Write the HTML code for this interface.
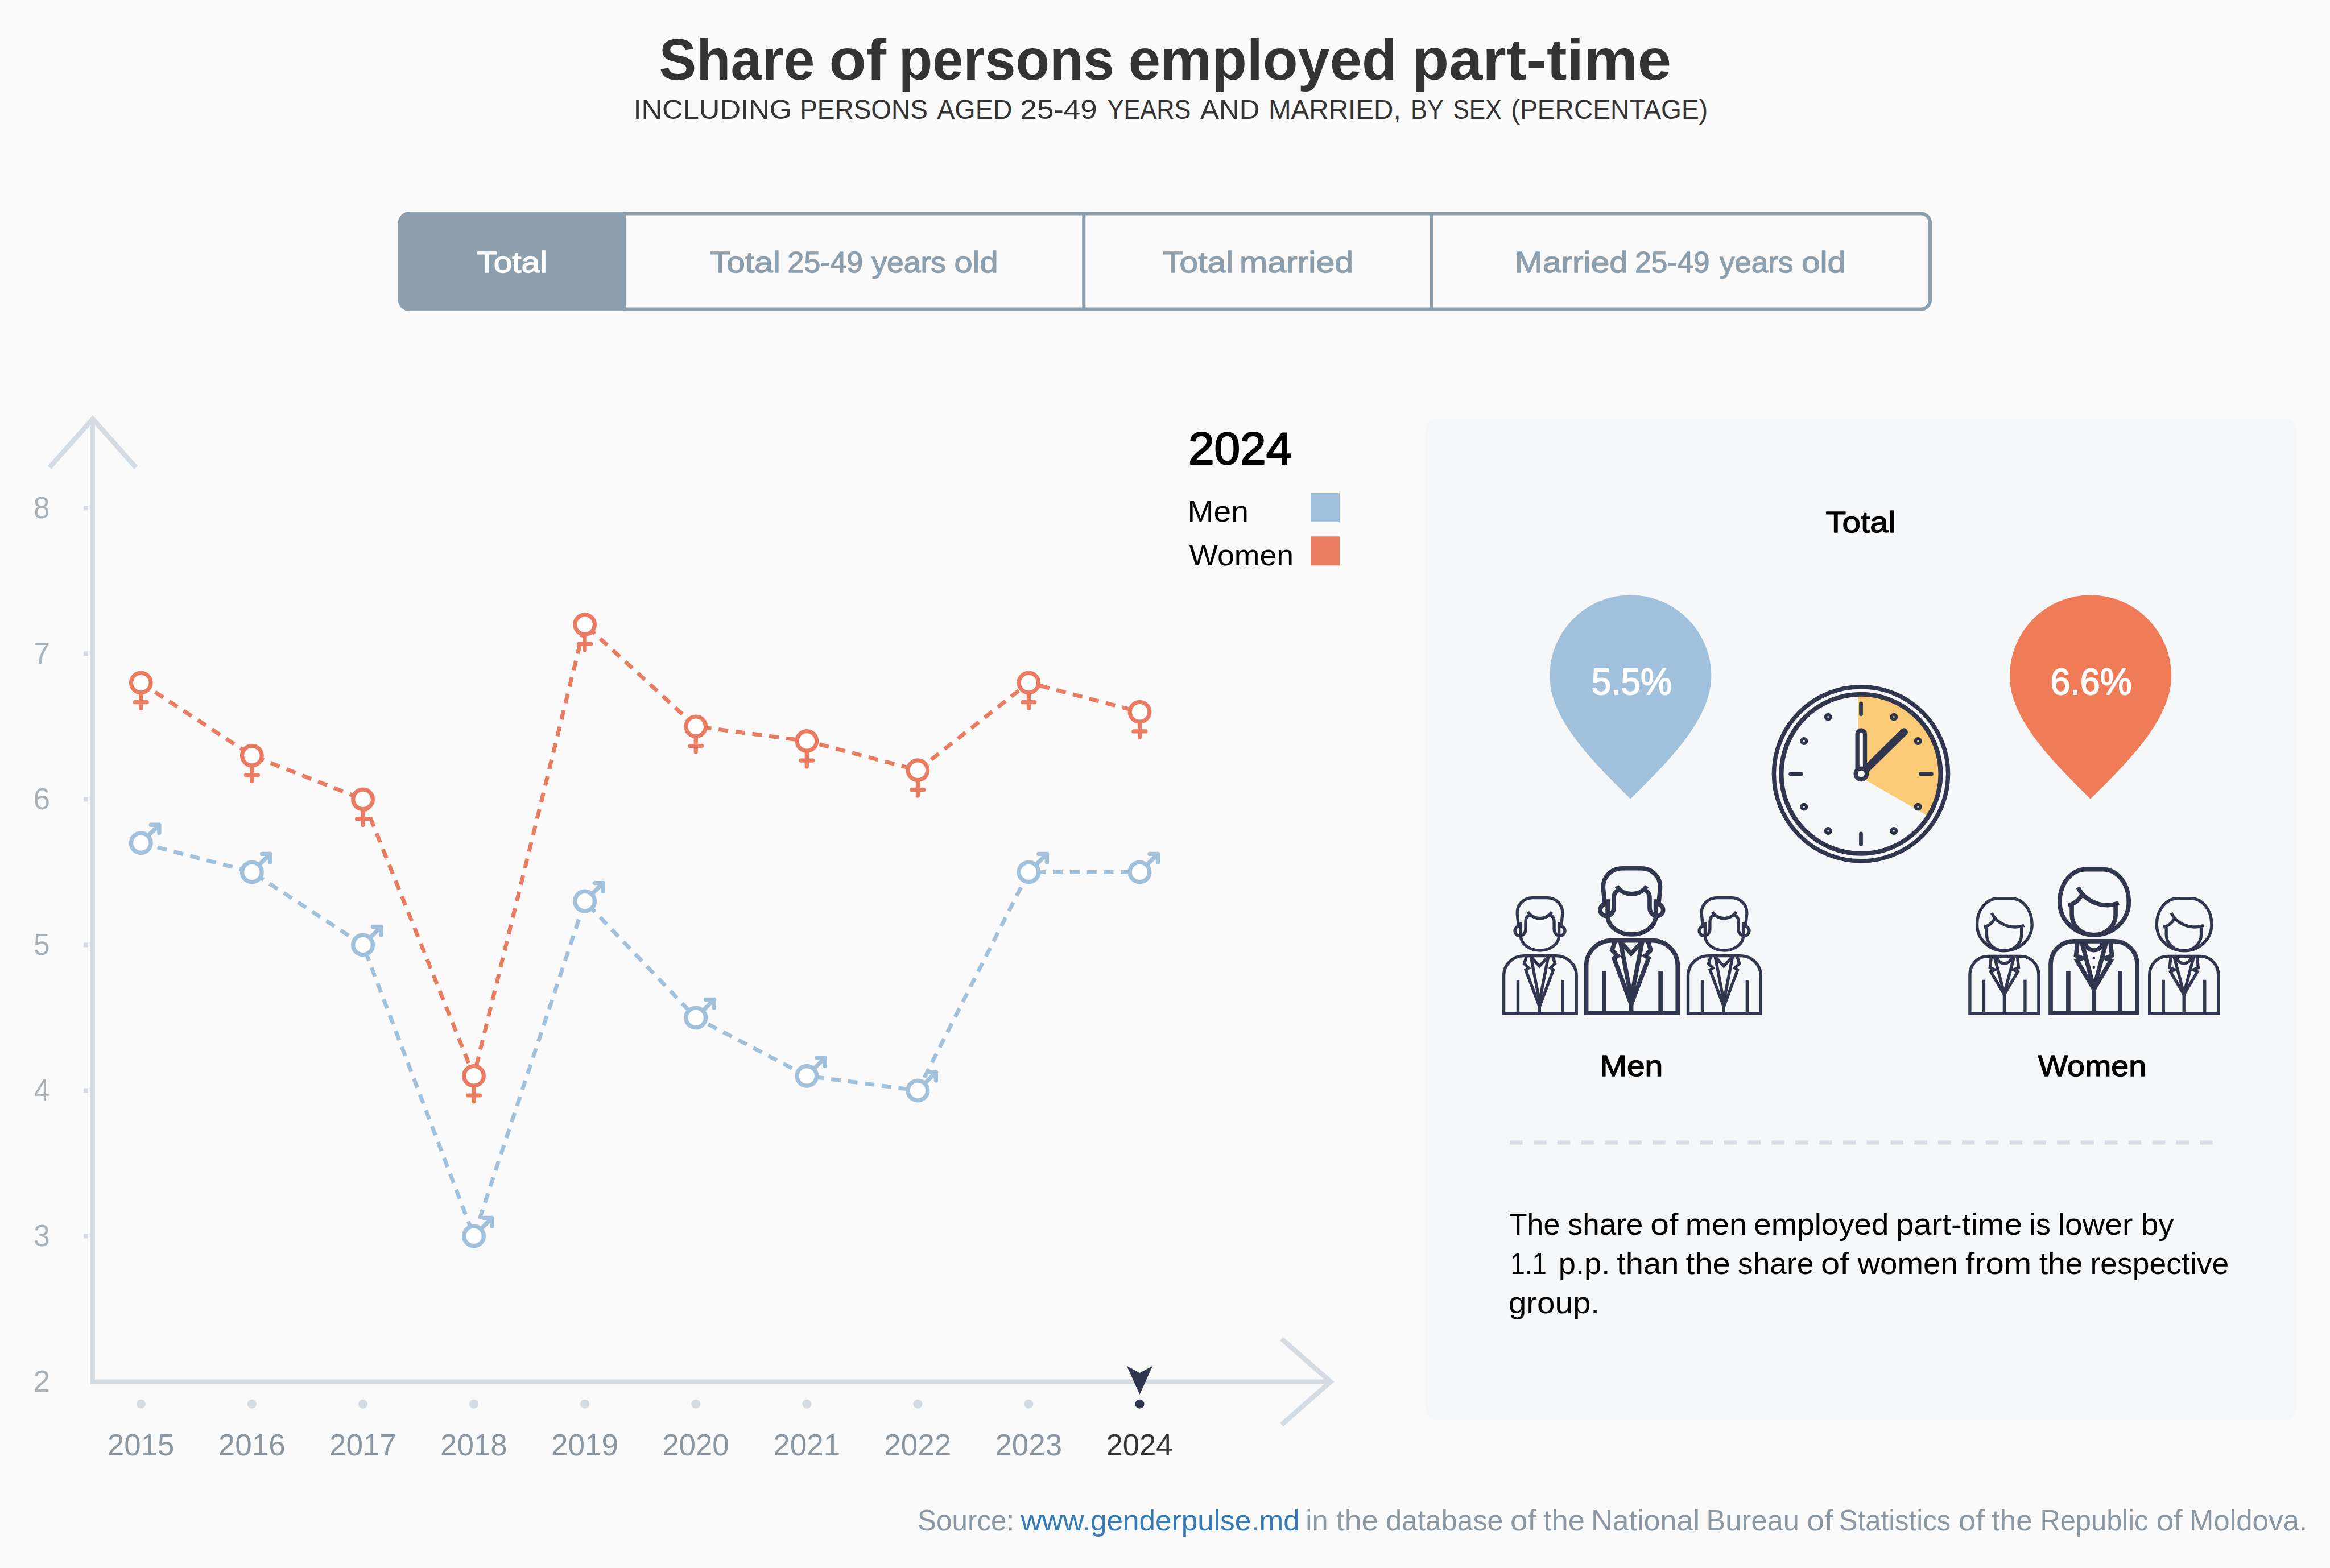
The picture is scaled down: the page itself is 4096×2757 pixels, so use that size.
<!DOCTYPE html>
<html lang="en">
<head>
<meta charset="utf-8">
<title>Share of persons employed part-time</title>
<style>
html,body{margin:0;padding:0;background:#fafafa;}
body{width:4096px;height:2757px;overflow:hidden;}
svg{display:block;font-family:"Liberation Sans", sans-serif;}
text{white-space:pre;}
</style>
</head>
<body>
<svg width="4096" height="2757" viewBox="0 0 4096 2757">
<rect width="4096" height="2757" fill="#fafafa"/>
<g class="header">
<text y="139.8" font-size="101.5" fill="#333333" font-weight="bold"><tspan x="1158.5" textLength="273.8" lengthAdjust="spacingAndGlyphs">Share</tspan> <tspan x="1457.4" textLength="100.8" lengthAdjust="spacingAndGlyphs">of</tspan> <tspan x="1579.8" textLength="378.9" lengthAdjust="spacingAndGlyphs">persons</tspan> <tspan x="1983.7" textLength="472.2" lengthAdjust="spacingAndGlyphs">employed</tspan> <tspan x="2481.9" textLength="456.3" lengthAdjust="spacingAndGlyphs">part-time</tspan></text>
<text y="209.2" font-size="47.8" fill="#333333"><tspan x="1113.4" textLength="278.7" lengthAdjust="spacingAndGlyphs">INCLUDING</tspan> <tspan x="1406.2" textLength="224.7" lengthAdjust="spacingAndGlyphs">PERSONS</tspan> <tspan x="1647.2" textLength="132.3" lengthAdjust="spacingAndGlyphs">AGED</tspan> <tspan x="1793.5" textLength="135.1" lengthAdjust="spacingAndGlyphs">25-49</tspan> <tspan x="1946.7" textLength="146.7" lengthAdjust="spacingAndGlyphs">YEARS</tspan> <tspan x="2110.1" textLength="104.4" lengthAdjust="spacingAndGlyphs">AND</tspan> <tspan x="2229.9" textLength="232.8" lengthAdjust="spacingAndGlyphs">MARRIED,</tspan> <tspan x="2480.1" textLength="57.1" lengthAdjust="spacingAndGlyphs">BY</tspan> <tspan x="2554.5" textLength="85.1" lengthAdjust="spacingAndGlyphs">SEX</tspan> <tspan x="2656.6" textLength="345.5" lengthAdjust="spacingAndGlyphs">(PERCENTAGE)</tspan></text>
</g>
<g class="tabs">
<rect x="703" y="375.5" width="2690" height="168" rx="16" fill="none" stroke="#8d9fac" stroke-width="6"/>
<path d="M1100.3 372.5H719a19 19 0 0 0-19 19V527.5a19 19 0 0 0 19 19H1100.3Z" fill="#8d9fac"/>
<path d="M1905.3 375V544M2516.5 375V544" stroke="#8d9fac" stroke-width="6" fill="none"/>
<text y="478.8" font-size="52" fill="#ffffff" stroke-width="1.3" stroke-linejoin="round"><tspan x="838.4" textLength="123.7" lengthAdjust="spacingAndGlyphs" stroke="#ffffff">Total</tspan></text>
<text y="478.8" font-size="52" fill="#8d9fac" stroke-width="1.3" stroke-linejoin="round"><tspan x="1248.1" textLength="123.7" lengthAdjust="spacingAndGlyphs" stroke="#8d9fac">Total</tspan> <tspan x="1384.6" textLength="132.5" lengthAdjust="spacingAndGlyphs" stroke="#8d9fac">25-49</tspan> <tspan x="1532.4" textLength="130.6" lengthAdjust="spacingAndGlyphs" stroke="#8d9fac">years</tspan> <tspan x="1677.5" textLength="77.0" lengthAdjust="spacingAndGlyphs" stroke="#8d9fac">old</tspan></text>
<text y="478.8" font-size="52" fill="#8d9fac" stroke-width="1.3" stroke-linejoin="round"><tspan x="2044.3" textLength="123.8" lengthAdjust="spacingAndGlyphs" stroke="#8d9fac">Total</tspan> <tspan x="2179.1" textLength="200.0" lengthAdjust="spacingAndGlyphs" stroke="#8d9fac">married</tspan></text>
<text y="478.8" font-size="52" fill="#8d9fac" stroke-width="1.3" stroke-linejoin="round"><tspan x="2663.1" textLength="198.8" lengthAdjust="spacingAndGlyphs" stroke="#8d9fac">Married</tspan> <tspan x="2874.3" textLength="131.1" lengthAdjust="spacingAndGlyphs" stroke="#8d9fac">25-49</tspan> <tspan x="3022.9" textLength="129.5" lengthAdjust="spacingAndGlyphs" stroke="#8d9fac">years</tspan> <tspan x="3166.9" textLength="78.3" lengthAdjust="spacingAndGlyphs" stroke="#8d9fac">old</tspan></text>
</g>
<g class="chart">
<g class="axes">
<path d="M163.0 738V2429.5H2339" fill="none" stroke="#d4dbe2" stroke-width="7.8" stroke-linejoin="miter"/>
<path d="M87 822L163.0 736.5L239 822" fill="none" stroke="#d4dbe2" stroke-width="8.6" stroke-linejoin="miter"/>
<path d="M2253 2354L2339 2429.5L2253 2505" fill="none" stroke="#d4dbe2" stroke-width="8.6" stroke-linejoin="miter"/>
<rect x="147" y="889.3" width="8" height="8" fill="#d4dbe2"/>
<text y="910.9" font-size="53.5" fill="#a9b0b6"><tspan x="58.8" textLength="28.8" lengthAdjust="spacingAndGlyphs">8</tspan></text>
<rect x="147" y="1145.3" width="8" height="8" fill="#d4dbe2"/>
<text y="1166.9" font-size="53.5" fill="#a9b0b6"><tspan x="58.3" textLength="29.8" lengthAdjust="spacingAndGlyphs">7</tspan></text>
<rect x="147" y="1401.4" width="8" height="8" fill="#d4dbe2"/>
<text y="1423.0" font-size="53.5" fill="#a9b0b6"><tspan x="58.4" textLength="29.5" lengthAdjust="spacingAndGlyphs">6</tspan></text>
<rect x="147" y="1657.4" width="8" height="8" fill="#d4dbe2"/>
<text y="1679.0" font-size="53.5" fill="#a9b0b6"><tspan x="58.9" textLength="28.7" lengthAdjust="spacingAndGlyphs">5</tspan></text>
<rect x="147" y="1913.4" width="8" height="8" fill="#d4dbe2"/>
<text y="1935.0" font-size="53.5" fill="#a9b0b6"><tspan x="59.9" textLength="27.0" lengthAdjust="spacingAndGlyphs">4</tspan></text>
<rect x="147" y="2169.4" width="8" height="8" fill="#d4dbe2"/>
<text y="2191.0" font-size="53.5" fill="#a9b0b6"><tspan x="59.1" textLength="28.7" lengthAdjust="spacingAndGlyphs">3</tspan></text>
<text y="2447.1" font-size="53.5" fill="#a9b0b6"><tspan x="58.3" textLength="29.8" lengthAdjust="spacingAndGlyphs">2</tspan></text>
<circle cx="247.8" cy="2468.7" r="8" fill="#d4dbe2"/>
<text y="2559.2" font-size="53.5" fill="#8b96a1"><tspan x="188.8" textLength="117.7" lengthAdjust="spacingAndGlyphs">2015</tspan></text>
<circle cx="442.9" cy="2468.7" r="8" fill="#d4dbe2"/>
<text y="2559.2" font-size="53.5" fill="#8b96a1"><tspan x="383.8" textLength="117.8" lengthAdjust="spacingAndGlyphs">2016</tspan></text>
<circle cx="638.0" cy="2468.7" r="8" fill="#d4dbe2"/>
<text y="2559.2" font-size="53.5" fill="#8b96a1"><tspan x="578.9" textLength="118.1" lengthAdjust="spacingAndGlyphs">2017</tspan></text>
<circle cx="833.0" cy="2468.7" r="8" fill="#d4dbe2"/>
<text y="2559.2" font-size="53.5" fill="#8b96a1"><tspan x="774.0" textLength="117.7" lengthAdjust="spacingAndGlyphs">2018</tspan></text>
<circle cx="1028.1" cy="2468.7" r="8" fill="#d4dbe2"/>
<text y="2559.2" font-size="53.5" fill="#8b96a1"><tspan x="969.1" textLength="118.0" lengthAdjust="spacingAndGlyphs">2019</tspan></text>
<circle cx="1223.2" cy="2468.7" r="8" fill="#d4dbe2"/>
<text y="2559.2" font-size="53.5" fill="#8b96a1"><tspan x="1164.2" textLength="117.5" lengthAdjust="spacingAndGlyphs">2020</tspan></text>
<circle cx="1418.3" cy="2468.7" r="8" fill="#d4dbe2"/>
<text y="2559.2" font-size="53.5" fill="#8b96a1"><tspan x="1359.2" textLength="118.1" lengthAdjust="spacingAndGlyphs">2021</tspan></text>
<circle cx="1613.4" cy="2468.7" r="8" fill="#d4dbe2"/>
<text y="2559.2" font-size="53.5" fill="#8b96a1"><tspan x="1554.3" textLength="118.1" lengthAdjust="spacingAndGlyphs">2022</tspan></text>
<circle cx="1808.4" cy="2468.7" r="8" fill="#d4dbe2"/>
<text y="2559.2" font-size="53.5" fill="#8b96a1"><tspan x="1749.4" textLength="117.8" lengthAdjust="spacingAndGlyphs">2023</tspan></text>
<circle cx="2003.5" cy="2468.7" r="8" fill="#31364f"/>
<text y="2559.2" font-size="53.5" fill="#333333"><tspan x="1944.5" textLength="117.0" lengthAdjust="spacingAndGlyphs">2024</tspan></text>
<path d="M1980.9 2401.8L2003.5 2414.1L2026.1 2401.8L2003.5 2452Z" fill="#31364f"/>
</g>
<g class="series">
<polyline points="247.8,1482.2 442.9,1533.4 638.0,1661.4 833.0,2173.4 1028.1,1584.6 1223.2,1789.4 1418.3,1891.8 1613.4,1917.4 1808.4,1533.4 2003.5,1533.4" fill="none" stroke="#a0c0db" stroke-width="7" stroke-dasharray="17 12.854" stroke-linejoin="miter"/>
<polyline points="247.8,1200.5 442.9,1328.6 638.0,1405.4 833.0,1891.8 1028.1,1098.1 1223.2,1277.3 1418.3,1302.9 1613.4,1354.2 1808.4,1200.5 2003.5,1251.7" fill="none" stroke="#e97b61" stroke-width="7" stroke-dasharray="17 12.854" stroke-linejoin="miter"/>
<g fill="none" stroke="#a0c0db" stroke-width="7.4" stroke-linecap="round" stroke-linejoin="round"><path d="M260.1 1469.9L279.8 1450.2M265.3 1450.2H279.8V1464.7"/><circle cx="247.8" cy="1482.2" r="17.3" fill="#fefefe"/></g>
<g fill="none" stroke="#a0c0db" stroke-width="7.4" stroke-linecap="round" stroke-linejoin="round"><path d="M455.2 1521.1L474.9 1501.4M460.4 1501.4H474.9V1515.9"/><circle cx="442.9" cy="1533.4" r="17.3" fill="#fefefe"/></g>
<g fill="none" stroke="#a0c0db" stroke-width="7.4" stroke-linecap="round" stroke-linejoin="round"><path d="M650.3 1649.1L670.0 1629.4M655.5 1629.4H670.0V1643.9"/><circle cx="638.0" cy="1661.4" r="17.3" fill="#fefefe"/></g>
<g fill="none" stroke="#a0c0db" stroke-width="7.4" stroke-linecap="round" stroke-linejoin="round"><path d="M845.3 2161.1L865.0 2141.4M850.5 2141.4H865.0V2155.9"/><circle cx="833.0" cy="2173.4" r="17.3" fill="#fefefe"/></g>
<g fill="none" stroke="#a0c0db" stroke-width="7.4" stroke-linecap="round" stroke-linejoin="round"><path d="M1040.4 1572.3L1060.1 1552.6M1045.6 1552.6H1060.1V1567.1"/><circle cx="1028.1" cy="1584.6" r="17.3" fill="#fefefe"/></g>
<g fill="none" stroke="#a0c0db" stroke-width="7.4" stroke-linecap="round" stroke-linejoin="round"><path d="M1235.5 1777.1L1255.2 1757.4M1240.7 1757.4H1255.2V1771.9"/><circle cx="1223.2" cy="1789.4" r="17.3" fill="#fefefe"/></g>
<g fill="none" stroke="#a0c0db" stroke-width="7.4" stroke-linecap="round" stroke-linejoin="round"><path d="M1430.6 1879.5L1450.3 1859.8M1435.8 1859.8H1450.3V1874.3"/><circle cx="1418.3" cy="1891.8" r="17.3" fill="#fefefe"/></g>
<g fill="none" stroke="#a0c0db" stroke-width="7.4" stroke-linecap="round" stroke-linejoin="round"><path d="M1625.7 1905.1L1645.4 1885.4M1630.9 1885.4H1645.4V1899.9"/><circle cx="1613.4" cy="1917.4" r="17.3" fill="#fefefe"/></g>
<g fill="none" stroke="#a0c0db" stroke-width="7.4" stroke-linecap="round" stroke-linejoin="round"><path d="M1820.7 1521.1L1840.4 1501.4M1825.9 1501.4H1840.4V1515.9"/><circle cx="1808.4" cy="1533.4" r="17.3" fill="#fefefe"/></g>
<g fill="none" stroke="#a0c0db" stroke-width="7.4" stroke-linecap="round" stroke-linejoin="round"><path d="M2015.8 1521.1L2035.5 1501.4M2021.0 1501.4H2035.5V1515.9"/><circle cx="2003.5" cy="1533.4" r="17.3" fill="#fefefe"/></g>
<g fill="none" stroke="#e97b61" stroke-width="7.2" stroke-linecap="round"><path d="M247.8 1217.5V1245.5M237.3 1234.7H258.3"/><circle cx="247.8" cy="1200.5" r="17.3" fill="#fefefe"/></g>
<g fill="none" stroke="#e97b61" stroke-width="7.2" stroke-linecap="round"><path d="M442.9 1345.6V1373.6M432.4 1362.8H453.4"/><circle cx="442.9" cy="1328.6" r="17.3" fill="#fefefe"/></g>
<g fill="none" stroke="#e97b61" stroke-width="7.2" stroke-linecap="round"><path d="M638.0 1422.4V1450.4M627.5 1439.6H648.5"/><circle cx="638.0" cy="1405.4" r="17.3" fill="#fefefe"/></g>
<g fill="none" stroke="#e97b61" stroke-width="7.2" stroke-linecap="round"><path d="M833.0 1908.8V1936.8M822.5 1926.0H843.5"/><circle cx="833.0" cy="1891.8" r="17.3" fill="#fefefe"/></g>
<g fill="none" stroke="#e97b61" stroke-width="7.2" stroke-linecap="round"><path d="M1028.1 1115.1V1143.1M1017.6 1132.3H1038.6"/><circle cx="1028.1" cy="1098.1" r="17.3" fill="#fefefe"/></g>
<g fill="none" stroke="#e97b61" stroke-width="7.2" stroke-linecap="round"><path d="M1223.2 1294.3V1322.3M1212.7 1311.5H1233.7"/><circle cx="1223.2" cy="1277.3" r="17.3" fill="#fefefe"/></g>
<g fill="none" stroke="#e97b61" stroke-width="7.2" stroke-linecap="round"><path d="M1418.3 1319.9V1347.9M1407.8 1337.1H1428.8"/><circle cx="1418.3" cy="1302.9" r="17.3" fill="#fefefe"/></g>
<g fill="none" stroke="#e97b61" stroke-width="7.2" stroke-linecap="round"><path d="M1613.4 1371.2V1399.2M1602.9 1388.4H1623.9"/><circle cx="1613.4" cy="1354.2" r="17.3" fill="#fefefe"/></g>
<g fill="none" stroke="#e97b61" stroke-width="7.2" stroke-linecap="round"><path d="M1808.4 1217.5V1245.5M1797.9 1234.7H1818.9"/><circle cx="1808.4" cy="1200.5" r="17.3" fill="#fefefe"/></g>
<g fill="none" stroke="#e97b61" stroke-width="7.2" stroke-linecap="round"><path d="M2003.5 1268.7V1296.7M1993.0 1285.9H2014.0"/><circle cx="2003.5" cy="1251.7" r="17.3" fill="#fefefe"/></g>
</g>
<g class="legend">
<text y="815.9" font-size="79.5" fill="#000000" stroke-width="2.2" stroke-linejoin="round"><tspan x="2088.9" textLength="182.4" lengthAdjust="spacingAndGlyphs" stroke="#000000">2024</tspan></text>
<text y="917.3" font-size="52.5" fill="#000000"><tspan x="2087.5" textLength="107.4" lengthAdjust="spacingAndGlyphs">Men</tspan></text>
<text y="993.8" font-size="52.5" fill="#000000"><tspan x="2090.4" textLength="183.6" lengthAdjust="spacingAndGlyphs">Women</tspan></text>
<rect x="2304" y="867" width="51" height="51" fill="#a0c0db"/>
<rect x="2304" y="943.3" width="51" height="51" fill="#e97b61"/>
</g>
</g>
<g class="panel">
<rect x="2505.2" y="735.8" width="1532.8" height="1760.2" rx="24" fill="#f5f7f9"/>
<text y="936.0" font-size="52" fill="#000000" stroke-width="1.3" stroke-linejoin="round"><tspan x="3209.4" textLength="123.2" lengthAdjust="spacingAndGlyphs" stroke="#000000">Total</tspan></text>
<path d="M2866.3 1046.3A142.1 142.1 0 0 0 2724.2 1188.4C2724.2 1262.4 2795.3 1334.8 2866.3 1404.8C2937.3 1334.8 3008.4 1262.4 3008.4 1188.4A142.1 142.1 0 0 0 2866.3 1046.3Z" fill="#a0c0dc"/>
<text y="1221.1" font-size="65" fill="#ffffff" stroke-width="1.8" stroke-linejoin="round"><tspan x="2797.8" textLength="141.2" lengthAdjust="spacingAndGlyphs" stroke="#ffffff">5.5%</tspan></text>
<path d="M3675.0 1046.3A142.1 142.1 0 0 0 3532.9 1188.4C3532.9 1262.4 3604.0 1334.8 3675.0 1404.8C3746.0 1334.8 3817.1 1262.4 3817.1 1188.4A142.1 142.1 0 0 0 3675.0 1046.3Z" fill="#ef7b57"/>
<text y="1221.1" font-size="65" fill="#ffffff" stroke-width="1.8" stroke-linejoin="round"><tspan x="3604.4" textLength="143.3" lengthAdjust="spacingAndGlyphs" stroke="#ffffff">6.6%</tspan></text>
<text y="1891.7" font-size="52" fill="#000000" stroke-width="1.3" stroke-linejoin="round"><tspan x="2812.5" textLength="110.8" lengthAdjust="spacingAndGlyphs" stroke="#000000">Men</tspan></text>
<text y="1891.7" font-size="52" fill="#000000" stroke-width="1.3" stroke-linejoin="round"><tspan x="3582.7" textLength="190.4" lengthAdjust="spacingAndGlyphs" stroke="#000000">Women</tspan></text>
<path d="M2654.2 2009H3889.8" stroke="#d8dde5" stroke-width="7.2" stroke-dasharray="22.5 19.33" fill="none"/>
<text y="2170.7" font-size="54" fill="#000000"><tspan x="2653.0" textLength="89.2" lengthAdjust="spacingAndGlyphs">The</tspan> <tspan x="2755.7" textLength="132.7" lengthAdjust="spacingAndGlyphs">share</tspan> <tspan x="2901.2" textLength="49.2" lengthAdjust="spacingAndGlyphs">of</tspan> <tspan x="2962.8" textLength="108.1" lengthAdjust="spacingAndGlyphs">men</tspan> <tspan x="3083.3" textLength="237.0" lengthAdjust="spacingAndGlyphs">employed</tspan> <tspan x="3332.9" textLength="222.2" lengthAdjust="spacingAndGlyphs">part-time</tspan> <tspan x="3567.2" textLength="37.8" lengthAdjust="spacingAndGlyphs">is</tspan> <tspan x="3617.8" textLength="131.4" lengthAdjust="spacingAndGlyphs">lower</tspan> <tspan x="3763.9" textLength="57.7" lengthAdjust="spacingAndGlyphs">by</tspan></text>
<text y="2239.8" font-size="54" fill="#000000"><tspan x="2655.6" textLength="63.3" lengthAdjust="spacingAndGlyphs">1.1</tspan> <tspan x="2739.8" textLength="90.6" lengthAdjust="spacingAndGlyphs">p.p.</tspan> <tspan x="2842.3" textLength="109.0" lengthAdjust="spacingAndGlyphs">than</tspan> <tspan x="2963.6" textLength="78.4" lengthAdjust="spacingAndGlyphs">the</tspan> <tspan x="3055.0" textLength="133.5" lengthAdjust="spacingAndGlyphs">share</tspan> <tspan x="3201.1" textLength="49.8" lengthAdjust="spacingAndGlyphs">of</tspan> <tspan x="3265.6" textLength="176.1" lengthAdjust="spacingAndGlyphs">women</tspan> <tspan x="3455.0" textLength="116.3" lengthAdjust="spacingAndGlyphs">from</tspan> <tspan x="3584.7" textLength="76.8" lengthAdjust="spacingAndGlyphs">the</tspan> <tspan x="3674.5" textLength="243.8" lengthAdjust="spacingAndGlyphs">respective</tspan></text>
<text y="2308.6" font-size="54" fill="#000000"><tspan x="2651.9" textLength="160.1" lengthAdjust="spacingAndGlyphs">group.</tspan></text>
</g>
<g class="source">
<text y="2690.9" font-size="52" fill="#8b97a3"><tspan x="1613.1" textLength="170.2" lengthAdjust="spacingAndGlyphs">Source:</tspan> <tspan x="1794.5" textLength="490.2" lengthAdjust="spacingAndGlyphs" fill="#337ab7">www.genderpulse.md</tspan> <tspan x="2295.3" textLength="39.3" lengthAdjust="spacingAndGlyphs">in</tspan> <tspan x="2348.9" textLength="74.2" lengthAdjust="spacingAndGlyphs">the</tspan> <tspan x="2436.2" textLength="206.1" lengthAdjust="spacingAndGlyphs">database</tspan> <tspan x="2654.9" textLength="45.9" lengthAdjust="spacingAndGlyphs">of</tspan> <tspan x="2712.9" textLength="73.0" lengthAdjust="spacingAndGlyphs">the</tspan> <tspan x="2797.0" textLength="191.0" lengthAdjust="spacingAndGlyphs">National</tspan> <tspan x="2999.6" textLength="163.3" lengthAdjust="spacingAndGlyphs">Bureau</tspan> <tspan x="3175.9" textLength="46.7" lengthAdjust="spacingAndGlyphs">of</tspan> <tspan x="3232.8" textLength="196.5" lengthAdjust="spacingAndGlyphs">Statistics</tspan> <tspan x="3442.6" textLength="46.2" lengthAdjust="spacingAndGlyphs">of</tspan> <tspan x="3501.2" textLength="71.8" lengthAdjust="spacingAndGlyphs">the</tspan> <tspan x="3586.4" textLength="190.1" lengthAdjust="spacingAndGlyphs">Republic</tspan> <tspan x="3790.4" textLength="46.2" lengthAdjust="spacingAndGlyphs">of</tspan> <tspan x="3848.7" textLength="207.6" lengthAdjust="spacingAndGlyphs">Moldova.</tspan></text>
</g>
<g class="icons">
<path d="M3266.2 1363.7L3266.2 1221.2A142.5 142.5 0 0 1 3389.6 1435.0Z" fill="#fbca77"/><g fill="none" stroke="#31364f"><circle cx="3271.5" cy="1360.8" r="153.1" stroke-width="7.4"/><circle cx="3271.5" cy="1360.8" r="140" stroke-width="8"/><path d="M3271.5 1255.8L3271.5 1237.0M3376.5 1360.8L3395.3 1360.8M3271.5 1465.8L3271.5 1484.6M3166.5 1360.8L3147.7 1360.8" stroke-width="6.8" stroke-linecap="round"/><circle cx="3329.3" cy="1260.6" r="4.2" stroke-width="5.4"/><circle cx="3371.7" cy="1303.0" r="4.2" stroke-width="5.4"/><circle cx="3371.7" cy="1418.6" r="4.2" stroke-width="5.4"/><circle cx="3329.3" cy="1461.0" r="4.2" stroke-width="5.4"/><circle cx="3213.7" cy="1461.0" r="4.2" stroke-width="5.4"/><circle cx="3171.3" cy="1418.7" r="4.2" stroke-width="5.4"/><circle cx="3171.3" cy="1303.0" r="4.2" stroke-width="5.4"/><circle cx="3213.7" cy="1260.6" r="4.2" stroke-width="5.4"/><path d="M3272.0 1360.8L3347.2 1286.9" stroke-width="13.4" stroke-linecap="round"/><rect x="3265.15" y="1284.0" width="13.3" height="80" rx="6.65" fill="#ffffff" stroke-width="7.3"/><circle cx="3271.8" cy="1360.8" r="9.7" fill="#ffffff" stroke-width="7.3"/></g>
<g transform="translate(2707.3 1784.8) scale(0.795)" fill="none" stroke="#31364f" stroke-width="70" stroke-miterlimit="10"><g transform="translate(-78.8 -276.0) scale(0.095639)"><path d="M352 830A110 110 0 0 0 352 1050C430 1050 490 990 490 900V720Q490 610 590 570"/><path d="M1288 830A110 110 0 0 1 1288 1050C1210 1050 1150 990 1150 900V720Q1150 610 1050 570"/><path d="M378 745V1050A442 340 0 0 0 1262 1050V745"/><path d="M322 800L297 540C285 330 450 175 650 175H990C1190 175 1355 330 1343 540L1318 800"/><path d="M543 503A338 338 0 0 0 1097 503"/></g><g transform="translate(-88.8 -144.8) scale(0.095639)"><path d="M90 1475V600A470 457 0 0 1 560 143H1300A470 457 0 0 1 1770 600V1475Z"/><path d="M418 700V1475M1455 700V1475M916 1290V1475"/><path d="M612 165L563 322L665 425L598 470L916 1317L1234 470L1173 425L1275 322L1226 165"/><path d="M718 165L916 1200L1118 165"/><path d="M735 185L915 383L1098 185"/></g></g>
<g transform="translate(3031.3 1784.8) scale(0.795)" fill="none" stroke="#31364f" stroke-width="70" stroke-miterlimit="10"><g transform="translate(-78.8 -276.0) scale(0.095639)"><path d="M352 830A110 110 0 0 0 352 1050C430 1050 490 990 490 900V720Q490 610 590 570"/><path d="M1288 830A110 110 0 0 1 1288 1050C1210 1050 1150 990 1150 900V720Q1150 610 1050 570"/><path d="M378 745V1050A442 340 0 0 0 1262 1050V745"/><path d="M322 800L297 540C285 330 450 175 650 175H990C1190 175 1355 330 1343 540L1318 800"/><path d="M543 503A338 338 0 0 0 1097 503"/></g><g transform="translate(-88.8 -144.8) scale(0.095639)"><path d="M90 1475V600A470 457 0 0 1 560 143H1300A470 457 0 0 1 1770 600V1475Z"/><path d="M418 700V1475M1455 700V1475M916 1290V1475"/><path d="M612 165L563 322L665 425L598 470L916 1317L1234 470L1173 425L1275 322L1226 165"/><path d="M718 165L916 1200L1118 165"/><path d="M735 185L915 383L1098 185"/></g></g>
<g transform="translate(2868.8 1784.8) scale(1)" fill="none" stroke="#31364f" stroke-width="80" stroke-miterlimit="10"><g transform="translate(-78.8 -274.8) scale(0.095639)"><path d="M352 830A110 110 0 0 0 352 1050C430 1050 490 990 490 900V720Q490 610 590 570"/><path d="M1288 830A110 110 0 0 1 1288 1050C1210 1050 1150 990 1150 900V720Q1150 610 1050 570"/><path d="M378 745V1050A442 340 0 0 0 1262 1050V745"/><path d="M322 800L297 540C285 330 450 175 650 175H990C1190 175 1355 330 1343 540L1318 800"/><path d="M543 503A338 338 0 0 0 1097 503"/></g><g transform="translate(-88.8 -144.8) scale(0.095639)"><path d="M90 1475V600A470 457 0 0 1 560 143H1300A470 457 0 0 1 1770 600V1475Z"/><path d="M418 700V1475M1455 700V1475M916 1290V1475"/><path d="M612 165L563 322L665 425L598 470L916 1317L1234 470L1173 425L1275 322L1226 165"/><path d="M718 165L916 1200L1118 165"/><path d="M735 185L915 383L1098 185"/></g></g>
<g transform="translate(3523.6 1784.8) scale(0.796)" fill="none" stroke="#31364f" stroke-width="70" stroke-miterlimit="10"><g transform="translate(-91.3 -276.0) scale(0.095639)"><path d="M323 797C323 430 560 195 800 195H1120C1360 195 1592 430 1592 797C1592 1130 1310 1400 957 1400C605 1400 323 1130 323 797Z"/><path d="M545 860V1030A402.5 370 0 0 0 1350 1030V860"/><path d="M660 525C775 775 1100 925 1410 815"/><path d="M480 858Q650 810 725 670"/></g><g transform="translate(-91.3 -144.8) scale(0.095639)"><path d="M157 1475V580A420 425 0 0 1 577 155H1327A420 425 0 0 1 1747 580V1475Z"/><path d="M480 700V1475M1432 700V1475M952 1030V1475"/><path d="M650 170L622 420L735 468L640 512L952 1040L1264 512L1169 468L1282 420L1254 170"/><path d="M726 170L952 1019L1178 170"/><path d="M790 180A162 140 0 0 0 1114 180"/></g></g>
<g transform="translate(3839.4 1784.8) scale(0.796)" fill="none" stroke="#31364f" stroke-width="70" stroke-miterlimit="10"><g transform="translate(-91.3 -276.0) scale(0.095639)"><path d="M323 797C323 430 560 195 800 195H1120C1360 195 1592 430 1592 797C1592 1130 1310 1400 957 1400C605 1400 323 1130 323 797Z"/><path d="M545 860V1030A402.5 370 0 0 0 1350 1030V860"/><path d="M660 525C775 775 1100 925 1410 815"/><path d="M480 858Q650 810 725 670"/></g><g transform="translate(-91.3 -144.8) scale(0.095639)"><path d="M157 1475V580A420 425 0 0 1 577 155H1327A420 425 0 0 1 1747 580V1475Z"/><path d="M480 700V1475M1432 700V1475M952 1030V1475"/><path d="M650 170L622 420L735 468L640 512L952 1040L1264 512L1169 468L1282 420L1254 170"/><path d="M726 170L952 1019L1178 170"/><path d="M790 180A162 140 0 0 0 1114 180"/></g></g>
<g transform="translate(3681.3 1784.8) scale(1)" fill="none" stroke="#31364f" stroke-width="80" stroke-miterlimit="10"><g transform="translate(-91.3 -274.8) scale(0.095639)"><path d="M323 797C323 430 560 195 800 195H1120C1360 195 1592 430 1592 797C1592 1130 1310 1400 957 1400C605 1400 323 1130 323 797Z"/><path d="M545 860V1030A402.5 370 0 0 0 1350 1030V860"/><path d="M660 525C775 775 1100 925 1410 815"/><path d="M480 858Q650 810 725 670"/></g><g transform="translate(-91.3 -144.8) scale(0.095639)"><path d="M157 1475V580A420 425 0 0 1 577 155H1327A420 425 0 0 1 1747 580V1475Z"/><path d="M480 700V1475M1432 700V1475M952 1030V1475"/><path d="M650 170L622 420L735 468L640 512L952 1040L1264 512L1169 468L1282 420L1254 170"/><path d="M726 170L952 1019L1178 170"/><path d="M790 180A162 140 0 0 0 1114 180"/><circle cx="950" cy="470" r="25" fill="#31364f" stroke="none"/><circle cx="950" cy="635" r="25" fill="#31364f" stroke="none"/></g></g>
</g>

</svg>
</body>
</html>
